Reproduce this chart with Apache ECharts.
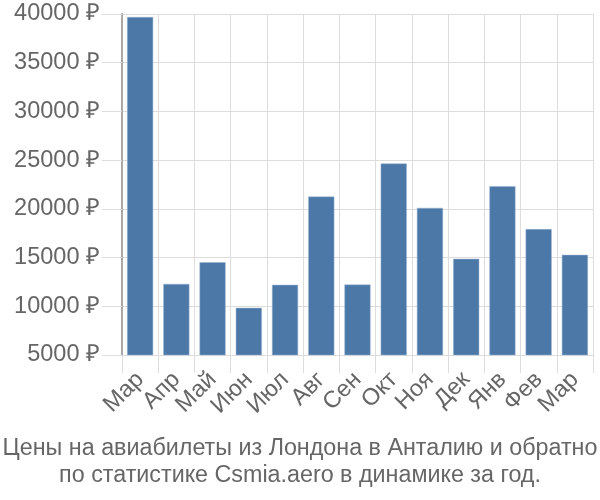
<!DOCTYPE html>
<html><head><meta charset="utf-8">
<script src="https://cdn.jsdelivr.net/npm/echarts@6/dist/echarts.min.js"></script>
<style>html,body{margin:0;padding:0;background:#fff}#c{width:600px;height:500px}</style>
</head><body><div id="c"></div>
<script>
const categories = ['Мар','Апр','Май','Июн','Июл','Авг','Сен','Окт','Ноя','Дек','Янв','Фев','Мар'];
const prices = [39690, 12300, 14520, 9840, 12200, 21260, 12230, 24660, 20100, 14870, 22330, 17920, 15280];
const titleLines = ['Цены на авиабилеты из Лондона в Анталию и обратно', 'по статистике Csmia.aero в динамике за год.'];
const FONT = 'Liberation Sans';
const chart = echarts.init(document.getElementById('c'), null, {renderer:'canvas'});
chart.setOption({
  animation:false,
  textStyle:{fontFamily:FONT},
  title:{text:titleLines.join('\n'), left:'center', bottom:6,
    textStyle:{fontFamily:FONT, fontSize:23.3, fontWeight:'normal', color:'#666', lineHeight:27}},
  grid:{left:122, right:7, top:14, bottom:145, containLabel:false},
  xAxis:{type:'category', data:categories,
    axisLine:{show:true, lineStyle:{color:'#ddd'}},
    axisTick:{show:true, length:18, lineStyle:{color:'#ddd'}},
    splitLine:{show:true, interval:0, lineStyle:{color:'#ddd'}},
    axisLabel:{rotate:45, interval:0, margin:21, fontSize:23.5, color:'#666', fontFamily:FONT}},
  yAxis:{type:'value', min:5000, max:40000, interval:5000,
    axisLine:{show:true, lineStyle:{color:'#aaa', width:2}},
    axisTick:{show:true, length:20, lineStyle:{color:'#ddd'}},
    splitLine:{show:true, lineStyle:{color:'#ddd'}},
    axisLabel:{formatter:function(v){return v + ' ₽';}, margin:22, fontSize:23.5, color:'#666', fontFamily:FONT}},
  series:[{type:'bar', data:prices, barCategoryGap:'28%',
    itemStyle:{color:'#4c78a8', borderColor:'#9bb5d3', borderWidth:0.5}}]
});
</script></body></html>
